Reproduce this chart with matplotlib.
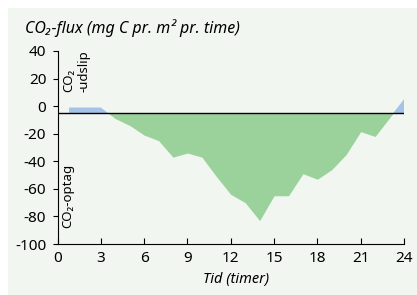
import numpy as np
import matplotlib.pyplot as plt

# data
hours = [0.8, 2, 3, 4, 5, 6, 7, 8, 9, 10, 11, 12, 13, 14, 15, 16, 17, 18, 19, 20, 21, 22, 23, 24]
flux = [-1, -1, -1, -9, -14, -21, -25, -37, -34, -37, -51, -64, -70, -83, -65, -65, -49, -53, -46, -35, -18.5, -22, -8.5, 5]
baseline = -5
xticks = [0, 3, 6, 9, 12, 15, 18, 21, 24]
yticks = [-100, -80, -60, -40, -20, 0, 20, 40]

bg = '#f2f6f1'
plt.rcParams['font.family'] = ['Noto Sans', 'DejaVu Sans']
plt.rcParams['axes.unicode_minus'] = False

fig = plt.figure(figsize=(4.17, 2.95), dpi=100)
fig.patch.set_facecolor('white')
# light panel behind everything
fig.patches.append(plt.Rectangle((8 / 417, 0), 1, 1 - 8 / 295, transform=fig.transFigure,
                                 facecolor=bg, edgecolor='none', zorder=-10))

ax = fig.add_axes([57.5 / 417, 51 / 295, 346.5 / 417, 193 / 295])
ax.set_facecolor('none')

x = np.array(hours, dtype=float)
y = np.array(flux, dtype=float)
ax.fill_between(x, y, baseline, where=y >= baseline, interpolate=True, color='#a4c3e8', lw=0)
ax.fill_between(x, y, baseline, where=y <= baseline, interpolate=True, color='#9bd19a', lw=0)
ax.axhline(baseline, color='black', lw=1)

ax.set_xlim(0, 24)
ax.set_ylim(-100, 40)
ax.set_xticks(xticks)
ax.set_yticks(yticks)
ax.spines['top'].set_visible(False)
ax.spines['right'].set_visible(False)
ax.tick_params(axis='x', direction='in', length=4, labelsize=11, pad=5)
ax.tick_params(axis='y', direction='out', length=3.6, labelsize=11, pad=4.5)

ax.text(0.015, 0.787, 'CO₂\n-udslip', transform=ax.transAxes, rotation=90,
        ha='left', va='bottom', multialignment='left', fontsize=9.5, linespacing=1.2)
ax.text(0.012, 0.083, 'CO₂-optag', transform=ax.transAxes, rotation=90,
        ha='left', va='bottom', fontsize=9.5)

fig.text(25 / 417, 1 - 33 / 295, 'CO₂-flux (mg C pr. m² pr. time)', style='italic',
         fontsize=11.5, ha='left', va='baseline')
fig.text(236 / 417, 1 - 280 / 295, 'Tid (timer)', style='italic', fontsize=10.5,
         ha='center', va='center')

fig.savefig('out.png', dpi=100, facecolor='white')
